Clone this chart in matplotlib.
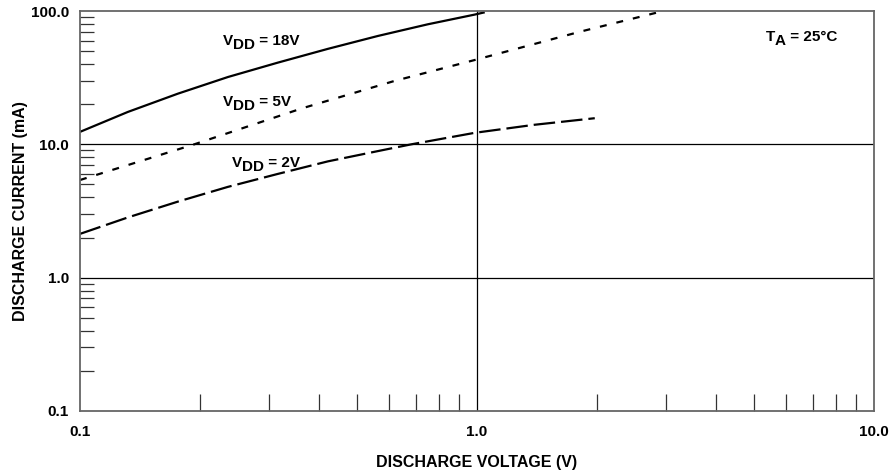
import numpy as np
import matplotlib
matplotlib.use("Agg")
import matplotlib.pyplot as plt
from matplotlib.ticker import FixedLocator, FixedFormatter, NullFormatter

plt.rcParams["font.family"] = ["Liberation Sans", "DejaVu Sans"]
plt.rcParams["font.weight"] = "bold"
plt.rcParams["lines.scale_dashes"] = False

# discharge voltage (V) vs discharge current (mA)
v18 = [0.1, 0.132, 0.1765, 0.236, 0.315, 0.421, 0.563, 0.752, 0.987, 1.046]
i18 = [12.4, 17.5, 24.0, 32.0, 41.0, 52.0, 65.0, 79.5, 94.0, 97.8]

v5 = [0.1, 0.194, 0.362, 0.62, 0.987, 1.82, 2.84]
i5 = [5.4, 10.0, 18.6, 29.9, 42.9, 70.0, 97.3]

v2 = [0.1, 0.132, 0.1765, 0.236, 0.315, 0.421, 0.563, 0.683, 0.987, 1.39, 1.98]
i2 = [2.13, 2.83, 3.72, 4.80, 6.0, 7.45, 8.9, 10.0, 12.2, 14.0, 15.7]

x_ticks = [0.1, 1.0, 10.0]
x_tick_labels = ["0.1", "1.0", "10.0"]
y_ticks = [0.1, 1.0, 10.0, 100.0]
y_tick_labels = ["0.1", "1.0", "10.0", "100.0"]

FS = 11


def sub_label(ax, x, y, main, sub, rest):
    t1 = ax.text(x, y, main, fontsize=FS, fontweight="bold", va="baseline")
    t2 = ax.annotate(sub, xy=(1, 0), xycoords=t1, xytext=(0, -3),
                     textcoords="offset points", fontsize=FS,
                     fontweight="bold", va="bottom")
    ax.annotate(rest, xy=(1, 0), xycoords=t2, xytext=(0, 3),
                textcoords="offset points", fontsize=FS,
                fontweight="bold", va="bottom")


fig = plt.figure(figsize=(8.95, 4.76), dpi=100)
ax = fig.add_axes([80 / 895, 1 - 411 / 476, 794 / 895, 400 / 476])
ax.set_xscale("log")
ax.set_yscale("log")
ax.set_xlim(0.1, 10)
ax.set_ylim(0.1, 100)

ax.plot(v18, i18, color="black", lw=1.6, solid_capstyle="butt")
ax.plot(v5, i5, color="black", lw=1.6, dashes=(5, 7.2))
ax.plot(v2, i2, color="black", lw=1.6, dashes=(15.5, 4.3))

# grid lines at the decades
for yv in [1.0, 10.0]:
    ax.axhline(yv, color="black", lw=0.9, zorder=1)
ax.axvline(1.0, color="black", lw=0.9, zorder=1)

for s in ax.spines.values():
    s.set_color("#666666")
    s.set_linewidth(1.3)

ax.xaxis.set_major_locator(FixedLocator(x_ticks))
ax.xaxis.set_major_formatter(FixedFormatter(x_tick_labels))
ax.yaxis.set_major_locator(FixedLocator(y_ticks))
ax.yaxis.set_major_formatter(FixedFormatter(y_tick_labels))
ax.xaxis.set_minor_locator(FixedLocator(
    [m * d for d in [0.1, 1.0] for m in range(2, 10)]))
ax.yaxis.set_minor_locator(FixedLocator(
    [m * d for d in [0.1, 1.0, 10.0] for m in range(2, 10)]))
ax.xaxis.set_minor_formatter(NullFormatter())
ax.yaxis.set_minor_formatter(NullFormatter())

ax.tick_params(which="major", length=0, labelsize=FS, pad=8)
ax.tick_params(axis="x", which="major", pad=10)
ax.tick_params(axis="x", which="minor", direction="in", length=12,
               width=0.9, color="#333333")
ax.tick_params(axis="y", which="minor", direction="in", length=10,
               width=0.9, color="#333333")

ax.set_xlabel("DISCHARGE VOLTAGE (V)", fontsize=11.5, fontweight="bold")
ax.set_ylabel("DISCHARGE CURRENT (mA)", fontsize=11.5, fontweight="bold")
ax.xaxis.set_label_coords(0.5, -0.11)
ax.yaxis.set_label_coords(-0.066, 0.5)

sub_label(ax, 0.229, 55.7, "V", "DD", " = 18V")
sub_label(ax, 0.229, 19.4, "V", "DD", " = 5V")
sub_label(ax, 0.241, 6.77, "V", "DD", " = 2V")
sub_label(ax, 5.34, 59.7, "T", "A", " = 25°C")

fig.savefig("out.png", dpi=100)
